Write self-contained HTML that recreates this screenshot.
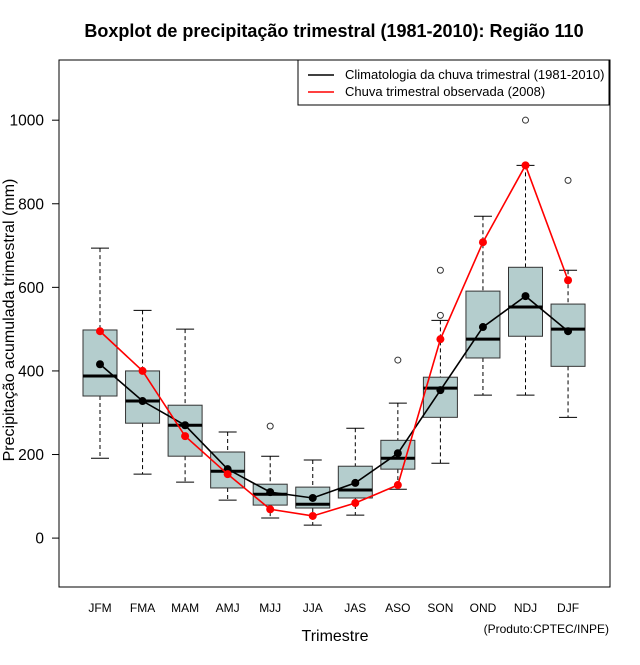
<!DOCTYPE html>
<html><head><meta charset="utf-8"><style>
body{margin:0;background:#fff;}
svg text{font-family:"Liberation Sans",sans-serif;}
</style></head><body>
<svg id="chart" width="640" height="660"></svg>
<script>
const categories=["JFM","FMA","MAM","AMJ","MJJ","JJA","JAS","ASO","SON","OND","NDJ","DJF"];
const whiskerLow=[191,153,134,91,48,31,55,117,179,342,342,289];
const q1=[340,275,196,120,79,72,96,165,289,431,483,411];
const median=[388,328,270,160,105,81,115,191,359,476,553,500];
const q3=[498,400,318,206,129,122,172,234,385,591,648,560];
const whiskerHigh=[694,545,500,254,196,187,263,323,521,770,892,641];
const outlierCat=[4,7,8,8,10,11];
const outlierVal=[268,426,533,641,1000,856];
const climatology=[416,328,270,165,110,96,132,203,354,505,579,495];
const observed2008=[495,400,244,153,69,53,84,127,476,708,892,617];
const yTicks=[0,200,400,600,800,1000];

const NS="http://www.w3.org/2000/svg";
const svg=document.getElementById('chart');
const L=59,R=610,T=60,B=587,yMin=-117,yMax=1144;
const y=v=>B-(v-yMin)/(yMax-yMin)*(B-T);
const x=i=>100+i*42.55;
function add(tag,attrs,name,txt){const e=document.createElementNS(NS,tag);for(const k in attrs)e.setAttribute(k,attrs[k]);


if(txt!==undefined)e.textContent=txt;svg.appendChild(e);return e;}

add('text',{x:334,y:37,'text-anchor':'middle','font-size':18,'font-weight':'bold'},'chart-title','Boxplot de precipitação trimestral (1981-2010): Região 110');
add('rect',{x:L,y:T,width:R-L,height:B-T,fill:'none',stroke:'#000'},'plot-frame');
yTicks.forEach(t=>{add('line',{x1:L-7,x2:L,y1:y(t),y2:y(t),stroke:'#000'},'y-tick');
add('text',{x:44,y:y(t)+5.5,'text-anchor':'end','font-size':15.5},'y-tick-label',t);});
add('text',{x:14,y:320,'text-anchor':'middle','font-size':16,transform:'rotate(-90 14 320)'},'y-axis-title','Precipitação acumulada trimestral (mm)');
add('text',{x:335,y:641,'text-anchor':'middle','font-size':16},'x-axis-title','Trimestre');
add('text',{x:609,y:633,'text-anchor':'end','font-size':12},'source-note','(Produto:CPTEC/INPE)');
categories.forEach((c,i)=>{
 const cx=x(i),w=17;
 add('text',{x:cx,y:612,'text-anchor':'middle','font-size':12},'x-tick-label',c);
 add('line',{x1:cx,x2:cx,y1:y(whiskerHigh[i]),y2:y(q3[i]),stroke:'#000','stroke-dasharray':'4,3'},'whisker-upper');
 add('line',{x1:cx,x2:cx,y1:y(q1[i]),y2:y(whiskerLow[i]),stroke:'#000','stroke-dasharray':'4,3'},'whisker-lower');
 add('line',{x1:cx-9,x2:cx+9,y1:y(whiskerHigh[i]),y2:y(whiskerHigh[i]),stroke:'#000'},'whisker-cap');
 add('line',{x1:cx-9,x2:cx+9,y1:y(whiskerLow[i]),y2:y(whiskerLow[i]),stroke:'#000'},'whisker-cap');
 add('rect',{x:cx-w,y:y(q3[i]),width:2*w,height:y(q1[i])-y(q3[i]),fill:'#b4cdcd',stroke:'#333'},'box-'+c.toLowerCase());
 add('line',{x1:cx-w,x2:cx+w,y1:y(median[i]),y2:y(median[i]),stroke:'#000','stroke-width':3},'median-line');
});
outlierCat.forEach((c,k)=>add('circle',{cx:x(c),cy:y(outlierVal[k]),r:3,fill:'none',stroke:'#333'},'outlier'));
function series(vals,col,name){
 add('polyline',{points:vals.map((v,i)=>x(i)+','+y(v)).join(' '),fill:'none',stroke:col,'stroke-width':1.6},name+'-line');
 vals.forEach((v,i)=>add('circle',{cx:x(i),cy:y(v),r:4,fill:col},name+'-point'));
}
series(climatology,'#000','climatology');
series(observed2008,'#f00','observed');
add('rect',{x:298,y:60,width:311,height:45,fill:'#fff',stroke:'#000'},'legend-box');
add('line',{x1:308,x2:334,y1:75,y2:75,stroke:'#000','stroke-width':1.6},'legend-climatology-swatch');
add('text',{x:345,y:79,'font-size':13},'legend-climatology-label','Climatologia da chuva trimestral (1981-2010)');
add('line',{x1:308,x2:334,y1:92,y2:92,stroke:'#f00','stroke-width':1.6},'legend-observed-swatch');
add('text',{x:345,y:96,'font-size':13},'legend-observed-label','Chuva trimestral observada (2008)');
</script>
</body></html>
